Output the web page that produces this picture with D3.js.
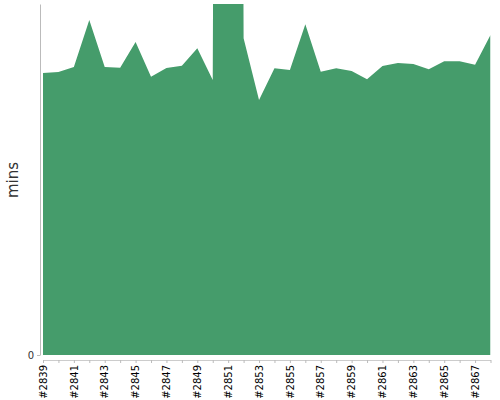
<!DOCTYPE html>
<html><head><meta charset="utf-8">
<script src="https://cdn.jsdelivr.net/npm/d3@7"></script>
<style>body{margin:0;background:#fff}</style>
</head><body>
<svg id="c" width="500" height="400"></svg>
<script>
const builds = ["#2839","#2840","#2841","#2842","#2843","#2844","#2845","#2846","#2847","#2848","#2849","#2850","#2851","#2852","#2853","#2854","#2855","#2856","#2857","#2858","#2859","#2860","#2861","#2862","#2863","#2864","#2865","#2866","#2867","#2868"];
const mins = [16.07,16.13,16.41,19.09,16.41,16.37,17.83,15.86,16.35,16.48,17.48,15.67,250,18.05,14.53,16.34,16.24,18.84,16.14,16.34,16.18,15.71,16.47,16.64,16.58,16.28,16.74,16.74,16.54,18.23];
const yTicks = [0];
const yMax = 20;

const svg = d3.select("#c");
const x = d3.scalePoint().domain(builds).range([43, 490.5]);
const y = d3.scaleLinear().domain([0, yMax]).range([355, 4]);

svg.append("defs").append("clipPath").attr("id","clip")
  .append("rect").attr("x",43).attr("y",4).attr("width",447.5).attr("height",351);

const area = d3.area().x((d,i)=>x(builds[i])).y0(y(0)).y1(d=>y(d));
svg.append("path").datum(mins).attr("clip-path","url(#clip)")
  .attr("d", area).attr("fill","#459c6b");

// y axis
const ya = svg.append("g").attr("transform","translate(40,0)")
  .call(d3.axisLeft(y).tickValues(yTicks).tickSize(3).tickSizeOuter(0));
ya.select(".domain").attr("stroke","#bbb");
ya.selectAll(".tick line").attr("stroke","#bbb");
ya.selectAll("text").attr("font-family","DejaVu Sans").attr("font-size",10).attr("fill","#333");

// x axis
const xa = svg.append("g").attr("transform","translate(0,360)")
  .call(d3.axisBottom(x).tickSize(3).tickSizeOuter(0).tickFormat((d,i)=> i%2===0 ? d : ""));
xa.select(".domain").attr("stroke","#ccc");
xa.selectAll(".tick line").attr("stroke","#bbb");
xa.selectAll("text").attr("font-family","DejaVu Sans").attr("font-size",10).attr("fill","#000")
  .attr("transform","rotate(-90)").attr("text-anchor","end")
  .attr("x",-5).attr("y",0).attr("dy","0.32em");

svg.append("text").attr("transform","translate(18,180) rotate(-90)")
  .attr("text-anchor","middle").attr("font-family","DejaVu Sans").attr("font-size",15)
  .attr("fill","#333").text("mins");
</script>
</body></html>
